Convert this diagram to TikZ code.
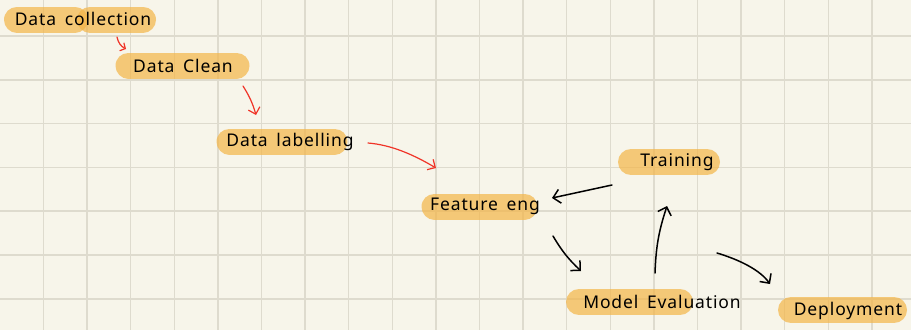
\documentclass[tikz,border=0pt]{standalone}
\usepackage{fontspec}
\setmainfont{Noto Sans}[LetterSpace=5, WordSpace=1.6]
\usetikzlibrary{arrows.meta}
\definecolor{paper}{RGB}{247,245,234}
\definecolor{gridc}{RGB}{222,219,206}
\definecolor{marker}{RGB}{244,181,71}
\definecolor{pen}{RGB}{240,52,40}
\tikzset{
  hl/.style={draw=marker, draw opacity=0.7, line width=26pt, line cap=round},
  lbl/.style={font=\fontsize{17.5}{17.5}\selectfont, inner sep=0pt, text=black},
  redarrow/.style={draw=pen, line width=1.2pt, line cap=round,
    -{Straight Barb[length=6pt,width=12pt,line width=1.2pt]}},
  blkarrow/.style={draw=black, line width=1.5pt, line cap=round,
    -{Straight Barb[length=7pt,width=14pt,line width=1.5pt]}}
}
\begin{document}
\begin{tikzpicture}[x=1pt,y=-1pt]
  % paper and grid
  \fill[paper] (0,0) rectangle (911,330);
  \useasboundingbox (0,0) rectangle (911,330);
  \foreach \k in {0,...,19}
    \draw[gridc, line width=1.5pt] ({43.5+43.6*\k},0) -- ({43.5+43.6*\k},330);
  \foreach \k in {0,...,6}
    \draw[gridc, line width=1.5pt] (0,{36+43.8*\k}) -- (911,{36+43.8*\k});

  % highlighter strokes
  \draw[hl] (17,19.5) -- (75,19.5);
  \draw[hl] (90,19.5) -- (143,19.5);
  \draw[hl] (128.5,65.5) -- (236.5,65.5);
  \draw[hl] (229.5,141.5) -- (334.5,141.5);
  \draw[hl] (434.5,206.5) -- (524.5,206.5);
  \draw[hl] (631,162) -- (707,162);
  \draw[hl] (579,302) -- (680,302);
  \draw[hl] (791,310) -- (894,310);

  % labels
  \node[lbl] (collect) at (83,19)   {Data collection};
  \node[lbl] (clean)   at (183,66)  {Data Clean};
  \node[lbl] (label)   at (290,142) {Data labelling};
  \node[lbl] (feat)    at (485,206) {Feature eng};
  \node[lbl] (train)   at (677,162) {Training};
  \node[lbl] (evalu)   at (662,302) {Model Evaluation};
  \node[lbl] (deploy)  at (848,311) {Deployment};

  % arrow ends
  \coordinate (c1a) at (117,37);  \coordinate (c1b) at (126,49);
  \coordinate (c2a) at (243,86);  \coordinate (c2b) at (256,115);
  \coordinate (c3a) at (368,143); \coordinate (c3b) at (436,168);
  \coordinate (t1a) at (612,185); \coordinate (t1b) at (552,198);
  \coordinate (t2a) at (553,236); \coordinate (t2b) at (581,271);
  \coordinate (t3a) at (655,273); \coordinate (t3b) at (667,206);
  \coordinate (t4a) at (717,253); \coordinate (t4b) at (770,284);

  % pipeline arrows
  \draw[redarrow, -{Straight Barb[length=4pt,width=9pt,line width=1.2pt]}]
    (c1a) to[bend right=25] (c1b);
  \draw[redarrow] (c2a) to[bend left=8] (c2b);
  \draw[redarrow] (c3a) .. controls (392,145) and (414,155) .. (c3b);
  \draw[blkarrow] (t1a) -- (t1b);
  \draw[blkarrow] (t2a) to[bend right=8] (t2b);
  \draw[blkarrow] (t3a) to[bend left=8] (t3b);
  \draw[blkarrow] (t4a) .. controls (740,260) and (760,270) .. (t4b);
\end{tikzpicture}
\end{document}
